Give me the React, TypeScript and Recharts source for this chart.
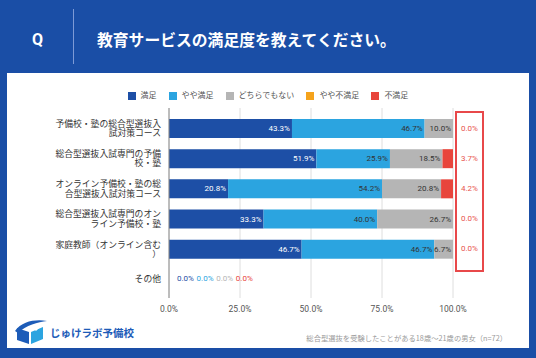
import { BarChart, Bar, XAxis, YAxis, CartesianGrid, LabelList } from 'recharts';

const categories = [
  '予備校・塾の総合型選抜入試対策コース',
  '総合型選抜入試専門の予備校・塾',
  'オンライン予備校・塾の総合型選抜入試対策コース',
  '総合型選抜入試専門のオンライン予備校・塾',
  '家庭教師（オンライン含む）',
  'その他',
];
// tick labels as they wrap in the picture
const tickLines = [
  ['予備校・塾の総合型選抜入', '試対策コース'],
  ['総合型選抜入試専門の予備', '校・塾'],
  ['オンライン予備校・塾の総', '合型選抜入試対策コース'],
  ['総合型選抜入試専門のオン', 'ライン予備校・塾'],
  ['家庭教師（オンライン含む', '）'],
  ['その他'],
];

const seriesNames = ['満足', 'やや満足', 'どちらでもない', 'やや不満足', '不満足'];
const seriesKeys = ['s0', 's1', 's2', 's3', 's4'];
const seriesColors = ['#1d4fa6', '#2ba4e0', '#b5b5b5', '#f5a31c', '#e8453c'];

const manzoku = [43.3, 51.9, 20.8, 33.3, 46.7, 0];
const yayaManzoku = [46.7, 25.9, 54.2, 40.0, 46.7, 0];
const dochiraDemo = [10.0, 18.5, 20.8, 26.7, 6.7, 0];
const yayaFuman = [0, 0, 0, 0, 0, 0];
const fuman = [0, 3.7, 4.2, 0, 0, 0];

const xTicks = [0, 25, 50, 75, 100];

const seriesValues = [manzoku, yayaManzoku, dochiraDemo, yayaFuman, fuman];
const rowTotals = categories.map((_, i) => seriesValues.reduce((s, v) => s + v[i], 0));

const data = categories.map((name, i) => ({
  name,
  s0: manzoku[i],
  s1: yayaManzoku[i],
  s2: dochiraDemo[i],
  s3: yayaFuman[i],
  s4: fuman[i],
}));

const FONT = "Roboto, 'Noto Sans CJK JP', sans-serif";
const pct = (v: number) => `${v.toFixed(1)}%`;

// "その他" has no bars, only four small labels next to the axis
const emptySlots = [0, 1, 2, 4];

const YTick = (props: any) => {
  const { x, y, payload } = props;
  const idx = categories.indexOf(payload.value);
  const lines = tickLines[idx] || [payload.value];
  const step = 9.4;
  const start = -((lines.length - 1) * step) / 2 + 0.5;
  return (
    <g>
      {lines.map((l, i) => (
        <text
          key={i}
          x={x}
          y={y + start + i * step}
          textAnchor="end"
          dominantBaseline="central"
          fontSize={8.8}
          fill="#333"
          fontFamily={FONT}
        >
          {l}
        </text>
      ))}
      {rowTotals[idx] === 0 &&
        emptySlots.map((si, k) => (
          <text
            key={si}
            x={x + 16 + k * 19.6}
            y={y}
            dominantBaseline="central"
            fontSize={8}
            fill={seriesColors[si]}
            fontFamily={FONT}
          >
            {pct(seriesValues[si][idx])}
          </text>
        ))}
    </g>
  );
};

// red column of 不満足 values, right of the plot
const RightTick = (props: any) => {
  const { x, y, payload } = props;
  const idx = categories.indexOf(payload.value);
  if (idx < 0 || rowTotals[idx] === 0) return null;
  return (
    <text x={x} y={y} dominantBaseline="central" fontSize={8} fill="#e8554e" fontFamily={FONT}>
      {pct(fuman[idx])}
    </text>
  );
};

const makeLabel = (si: number) => (props: any) => {
  const { x, y, width, height, index } = props;
  const v = seriesValues[si][index];
  if (!v) return null;
  return (
    <text
      x={x + width - 2}
      y={y + height / 2}
      textAnchor="end"
      dominantBaseline="central"
      fontSize={8}
      fill={si === 0 ? '#fff' : '#333'}
      fontFamily={FONT}
    >
      {pct(v)}
    </text>
  );
};

const Logo = () => (
  <svg width={34} height={26} viewBox="0 0 34 26" style={{ position: 'absolute', left: 14, top: 319 }}>
    <path d="M3 9 L15 13 L15 25 L3 21 Z" fill="#1d5cb8" />
    <path d="M17 13 L29 8 L29 20 L17 25 Z" fill="#2ba4e0" />
    <path d="M1 12 C8 2, 22 0, 33 2 C24 3, 12 6, 4 14 Z" fill="#1d5cb8" />
    <path d="M20 10 L26 4 L28 6 L22 12 Z" fill="#fff" />
  </svg>
);

export default function App() {
  return (
    <div
      style={{
        position: 'absolute',
        left: 0,
        top: 0,
        width: 536,
        height: 358,
        background: '#1a4ea6',
        fontFamily: FONT,
        overflow: 'hidden',
      }}
    >
      <div style={{ position: 'absolute', left: 32, top: 29, color: '#fff', fontSize: 16, fontWeight: 700, lineHeight: '22px' }}>
        Q
      </div>
      <div style={{ position: 'absolute', left: 73, top: 9, width: 1, height: 55, background: '#7d9ad6' }} />
      <div
        style={{
          position: 'absolute',
          left: 97,
          top: 29,
          color: '#fff',
          fontSize: 15.8,
          fontWeight: 700,
          lineHeight: '22px',
          fontFamily: "'Noto Sans CJK JP', sans-serif",
          whiteSpace: 'nowrap',
        }}
      >
        教育サービスの満足度を教えてください。
      </div>

      <div style={{ position: 'absolute', left: 7, top: 73, width: 522, height: 275, background: '#fff' }} />

      <div
        style={{
          position: 'absolute',
          left: 0,
          top: 90,
          width: 536,
          display: 'flex',
          justifyContent: 'center',
          fontSize: 8,
          color: '#555',
          lineHeight: '11px',
        }}
      >
        {seriesNames.map((n, i) => (
          <div key={n} style={{ display: 'flex', alignItems: 'center', marginRight: i < seriesNames.length - 1 ? 12 : 0 }}>
            <span style={{ width: 8, height: 8, background: seriesColors[i], marginRight: 5, display: 'inline-block' }} />
            <span>{n}</span>
          </div>
        ))}
      </div>

      <div style={{ position: 'absolute', left: 0, top: 0 }}>
        <BarChart
          width={536}
          height={358}
          data={data}
          layout="vertical"
          margin={{ top: 108, right: 43, bottom: 40, left: 49 }}
        >
          <CartesianGrid horizontal={false} stroke="#dedede" />
          <XAxis
            type="number"
            domain={[0, 100]}
            ticks={xTicks}
            allowDataOverflow
            axisLine={false}
            tickLine={false}
            height={20}
            tickFormatter={(v: number) => pct(v)}
            tick={{ fontSize: 8.5, fill: '#555', fontFamily: FONT }}
          />
          <YAxis
            type="category"
            dataKey="name"
            width={120}
            padding={{ top: 5, bottom: 4 }}
            axisLine={{ stroke: '#8a8a8a' }}
            tickLine={false}
            tickSize={0}
            tickMargin={8}
            tick={<YTick />}
          />
          <YAxis
            yAxisId="r"
            orientation="right"
            type="category"
            dataKey="name"
            width={40}
            padding={{ top: 5, bottom: 4 }}
            axisLine={false}
            tickLine={false}
            tickSize={0}
            tickMargin={8}
            tick={<RightTick />}
          />
          {seriesKeys.map((k, i) => (
            <Bar key={k} dataKey={k} name={seriesNames[i]} stackId="a" fill={seriesColors[i]} barSize={19} isAnimationActive={false}>
              {i < 3 && <LabelList content={makeLabel(i)} />}
            </Bar>
          ))}
        </BarChart>
      </div>

      <div
        style={{
          position: 'absolute',
          left: 455,
          top: 111,
          width: 29,
          height: 161,
          border: '2px solid #e8484a',
          boxSizing: 'border-box',
        }}
      />

      <Logo />
      <div
        style={{
          position: 'absolute',
          left: 50,
          top: 324,
          fontSize: 10.5,
          fontWeight: 700,
          color: '#1d5cb8',
          lineHeight: '18px',
          fontFamily: "'Noto Sans CJK JP', sans-serif",
          whiteSpace: 'nowrap',
        }}
      >
        じゅけラボ予備校
      </div>
      <div
        style={{
          position: 'absolute',
          right: 29,
          top: 332,
          fontSize: 7.3,
          color: '#9a9a9a',
          lineHeight: '12px',
          whiteSpace: 'nowrap',
          fontFamily: "'Noto Sans CJK JP', sans-serif",
        }}
      >
        総合型選抜を受験したことがある18歳～21歳の男女（n=72）
      </div>
    </div>
  );
}
